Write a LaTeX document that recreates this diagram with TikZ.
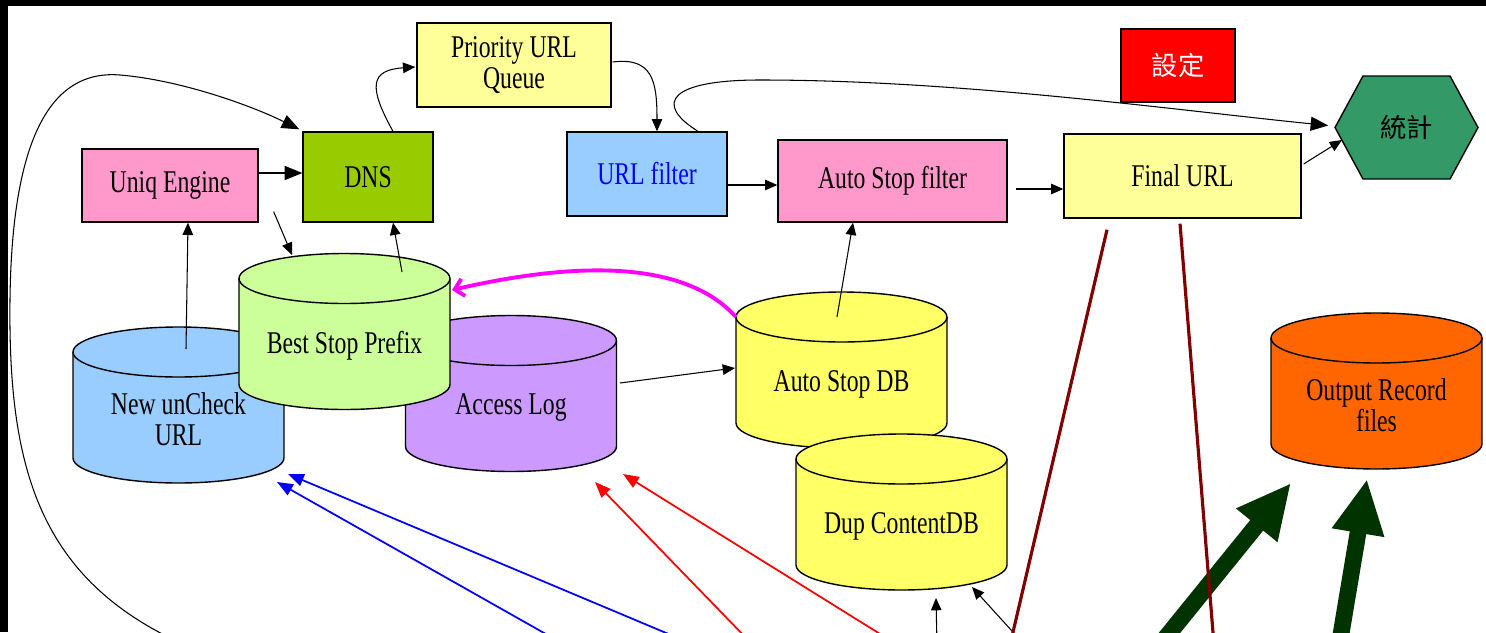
\documentclass[tikz,border=0pt]{standalone}
\usepackage{fontspec}
\setmainfont{Liberation Serif}[FakeStretch=0.75]
\newfontfamily\cjk{Noto Sans CJK TC}
\usetikzlibrary{arrows.meta,shapes.symbols}

\definecolor{pinkfill}{HTML}{FF99CC}
\definecolor{dnsgreen}{HTML}{99CC00}
\definecolor{paleyellow}{HTML}{FFFF99}
\definecolor{skyfill}{HTML}{99CCFF}
\definecolor{lavfill}{HTML}{CC99FF}
\definecolor{lemonfill}{HTML}{FFFF66}
\definecolor{palegreen}{HTML}{CCFF99}
\definecolor{orangefill}{HTML}{FF6600}
\definecolor{statgreen}{HTML}{339966}
\definecolor{wine}{HTML}{800000}
\definecolor{forest}{HTML}{003300}
\definecolor{fuchsia}{HTML}{FF00FF}

\begin{document}
\begin{tikzpicture}[x=0.02cm,y=-0.02cm,
	font=\fontsize{18}{18}\selectfont,
	procbox/.style={draw,line width=0.8pt,align=center,inner sep=0pt},
	drum/.style={line width=0.8pt},
	dbbox/.style={minimum width=4.22cm,minimum height=3.12cm,inner sep=0pt},
	dblabel/.style={yshift=-0.28cm,align=center},
	cjkfont/.style={font=\cjk\fontsize{15}{15}\selectfont},
	arr/.style={-{Triangle[length=7pt,width=6pt]},line width=0.6pt},
	bigarr/.style={-{Triangle[length=10pt,width=8pt]},line width=0.6pt},
	bluearr/.style={-{Triangle[length=9pt,width=7pt]},blue,line width=1pt},
	redarr/.style={-{Triangle[length=9pt,width=7pt]},red,line width=1pt},
	wineline/.style={wine,line width=1.8pt},
	fatarr/.style={-{Triangle[length=31pt,width=28pt]},forest,line width=9.5pt}
]
	\fill[white] (0,0) rectangle (1486,632);
	\useasboundingbox (0,0) rectangle (1486,632);
	\clip (0,0) rectangle (1486,632);

	% boxes
	\node[procbox,fill=paleyellow,minimum width=3.88cm,minimum height=1.68cm] (prio) at (514,65) {Priority URL\\Queue};
	\node[procbox,fill=dnsgreen,minimum width=2.6cm,minimum height=1.8cm] (dns) at (368,177) {DNS};
	\node[procbox,fill=pinkfill,minimum width=3.52cm,minimum height=1.46cm] (uniq) at (170,185.5) {Uniq Engine};
	\node[procbox,fill=skyfill,text=blue,minimum width=3.2cm,minimum height=1.68cm] (urlf) at (647,174) {URL filter};
	\node[procbox,fill=pinkfill,minimum width=4.58cm,minimum height=1.64cm] (asf) at (892.5,181) {Auto Stop filter};
	\node[procbox,fill=paleyellow,minimum width=4.74cm,minimum height=1.68cm] (final) at (1182.5,176) {Final URL};
	\node[procbox,cjkfont,fill=red,text=white,minimum width=2.28cm,minimum height=1.46cm] (conf) at (1178,65.5) {設定};
	\node[signal,signal to=east and west,signal pointer angle=123,draw,line width=0.8pt,
		fill=statgreen,cjkfont,inner sep=0pt,minimum width=2.86cm,minimum height=2.06cm] (stats) at (1406.5,127.5) {統計};

	% database drums, back to front
	\foreach \x/\y/\col in {178.5/405/skyfill, 511/393.5/lavfill, 344.5/331.5/palegreen,
			841.5/370/lemonfill, 901.5/512/lemonfill, 1376.5/391/orangefill} {
		\filldraw[drum,fill=\col] (\x,\y) ++(-105.5,-53) -- ++(0,106)
			arc[start angle=180,end angle=360,x radius=2.11cm,y radius=0.5cm] -- ++(0,-106)
			arc[start angle=0,end angle=180,x radius=2.11cm,y radius=0.5cm] -- cycle;
		\draw[drum] (\x,\y) ++(-105.5,-53) arc[start angle=180,end angle=360,x radius=2.11cm,y radius=0.5cm];
	}
	\node[dbbox,label={[dblabel]center:{New unCheck\\URL}}] (newurl) at (178.5,405) {};
	\node[dbbox,label={[dblabel]center:{Access Log}}] (alog) at (511,393.5) {};
	\node[dbbox,label={[dblabel]center:{Best Stop Prefix}}] (bsp) at (344.5,331.5) {};
	\node[dbbox,label={[dblabel]center:{Auto Stop DB}}] (asdb) at (841.5,370) {};
	\node[dbbox,label={[dblabel]center:{Dup ContentDB}}] (dupdb) at (901.5,512) {};
	\node[dbbox,label={[dblabel]center:{Output Record\\files}}] (outrec) at (1376.5,391) {};

	% loose ends below the page
	\coordinate (loop) at (185,645);
	\coordinate (blueA) at (690,643);
	\coordinate (blueB) at (560,642);
	\coordinate (redA) at (750,642);
	\coordinate (redB) at (893,642);
	\coordinate (dupA) at (937,645);
	\coordinate (dupB) at (1022,642);
	\coordinate (wineA) at (1010,645);
	\coordinate (wineB) at (1214,645);
	\coordinate (outA) at (1154,652);
	\coordinate (outB) at (1338,652);

	% upper flow
	\draw[bigarr] ([shift={(0,-12.5)}]uniq.east) -- ([shift={(0,-4)}]dns.west);
	\draw[arr] ([shift={(7.5,-56)}]newurl.center) -- ([shift={(18,0)}]uniq.south);
	\draw[arr] ([shift={(15,-11)}]uniq.south east) -- ([shift={(-52.5,-76.5)}]bsp.center);
	\draw[arr] ([shift={(57.5,-59.5)}]bsp.center) -- ([shift={(25,0)}]dns.south);
	\draw[arr] ([shift={(25,0)}]dns.north) .. controls +(-25,-45) and +(-45,3) .. ([shift={(-1,2)}]prio.west);
	\draw[arr] ([shift={(1,-3)}]prio.east) .. controls +(40,-5) and +(0,-50) .. ([shift={(10,0)}]urlf.north);
	\draw[bigarr] ([shift={(51,0)}]urlf.north) .. controls +(-45,-28) and +(-90,0) .. (760,80)
		.. controls +(200,0) and +(-150,-15) .. ([shift={(-6,-2)}]stats.west);
	\draw[arr] ([shift={(0,11)}]urlf.east) -- ([shift={(0,4)}]asf.west);
	\draw[arr] ([shift={(8,8)}]asf.east) -- ([shift={(0,13)}]final.west);
	\draw[arr] ([shift={(2,-12)}]final.east) -- ([shift={(-64.5,12.5)}]stats.center);
	\draw[arr] ([shift={(-4.5,-53)}]asdb.center) -- ([shift={(-39.5,0)}]asf.south);
	\draw[arr] ([shift={(109,-10.5)}]alog.center) -- ([shift={(-106.5,-2)}]asdb.center);

	% stop db feeds the prefix table
	\draw[fuchsia,line width=2.2pt,-{Straight Barb[length=5pt,width=10pt]}]
		([shift={(-105.5,-53)}]asdb.center) .. controls +(-56,-62) and +(108,-25) .. ([shift={(107.5,-41.5)}]bsp.center);

	% the long loop back to DNS
	\draw[bigarr] (loop) .. controls (40,580) and (8,470) .. (10,300)
		.. controls (12,120) and (60,70) .. (120,75)
		.. controls (180,80) and (250,105) .. ([shift={(-3,-2)}]dns.north west);

	% inputs from below
	\draw[bluearr] (blueA) -- ([shift={(109.5,69)}]newurl.center);
	\draw[bluearr] (blueB) -- ([shift={(98.5,77)}]newurl.center);
	\draw[redarr] (redA) -- ([shift={(84,88.5)}]alog.center);
	\draw[redarr] (redB) -- ([shift={(112,80.5)}]alog.center);
	\draw[arr] (dupA) -- ([shift={(34.5,86)}]dupdb.center);
	\draw[arr] (dupB) -- ([shift={(70.5,75)}]dupdb.center);

	% output
	\draw[fatarr] (outA) -- ([shift={(-85.5,92)}]outrec.center);
	\draw[fatarr] (outB) -- ([shift={(-9.5,88)}]outrec.center);
	\draw[wineline] ([shift={(-75.5,11)}]final.south) -- (wineA);
	\draw[wineline] ([shift={(-2.5,5)}]final.south) -- (wineB);

	% frame
	\fill[black] (0,0) rectangle (1486,6);
	\fill[black] (0,0) rectangle (8,632);
\end{tikzpicture}
\end{document}
